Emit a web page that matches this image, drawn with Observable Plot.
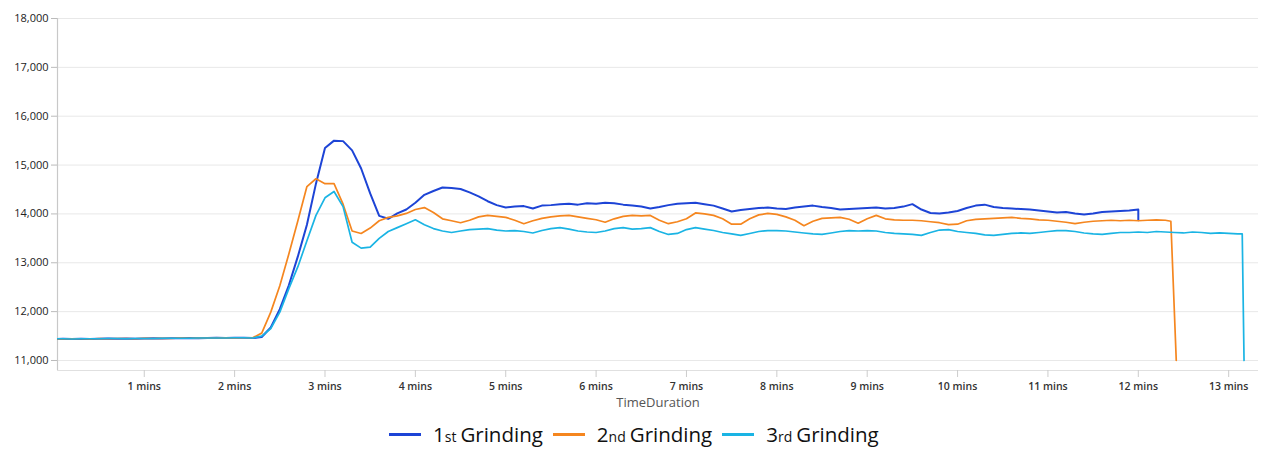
<!DOCTYPE html>
<html>
<head>
<meta charset="utf-8">
<script src="https://cdn.jsdelivr.net/npm/d3@7"></script>
<script src="https://cdn.jsdelivr.net/npm/@observablehq/plot@0.6"></script>
<style>
  html, body { margin: 0; padding: 0; background: #fff; }
  body { width: 1266px; height: 460px; overflow: hidden; font-family: "Open Sans", "Noto Sans", sans-serif; }
  #legend { position: absolute; top: 420px; left: 389px; display: flex; align-items: center; font-size: 20.5px; color: #111; white-space: nowrap; }
  #legend .item { display: flex; align-items: center; }
  #legend .sw { width: 32px; height: 3px; margin-right: 12px; }
  #legend .sm { font-size: 14px; margin-right: 4px; }
</style>
</head>
<body>
<div id="chart"></div>
<div id="legend"></div>
<script>
// ---- data ----
const seriesNames = ["1st Grinding", "2nd Grinding", "3rd Grinding"];
const seriesColors = ["#1d44d6", "#f5861f", "#1ab4e4"];
const seriesWidths = [2, 1.7, 1.7];
const timeStep = 0.1; // minutes between samples
const yTicks = [11000, 12000, 13000, 14000, 15000, 16000, 17000, 18000];
const xTicks = [1, 2, 3, 4, 5, 6, 7, 8, 9, 10, 11, 12, 13];

const grinding1 = [
  11440, 11445, 11440, 11445, 11440, 11445, 11450, 11445, 11450, 11445,
  11450, 11455, 11450, 11455, 11455, 11460, 11455, 11460, 11465, 11460,
  11465, 11465, 11460, 11480, 11675, 12050, 12540, 13130, 13780, 14620,
  15350, 15500, 15490, 15300, 14930, 14420, 13960, 13900, 14010, 14090,
  14230, 14390, 14470, 14540, 14530, 14510, 14440, 14360, 14260, 14180,
  14130, 14150, 14160, 14110, 14170, 14180, 14200, 14210, 14190, 14220,
  14210, 14230, 14220, 14190, 14170, 14150, 14110, 14140, 14180, 14210,
  14220, 14230, 14200, 14170, 14110, 14050, 14080, 14100, 14120, 14130,
  14110, 14100, 14130, 14150, 14170, 14140, 14120, 14090, 14100, 14110,
  14120, 14130, 14110, 14120, 14150, 14200, 14090, 14020, 14010, 14030,
  14060, 14120, 14170, 14190, 14140, 14120, 14110, 14100, 14090, 14070,
  14050, 14030, 14040, 14010, 13990, 14010, 14040, 14050, 14060, 14070,
  14090
];
const grinding1Tail = [[12.0, 13870]];

const grinding2 = [
  11445, 11440, 11445, 11445, 11440, 11450, 11445, 11450, 11450, 11445,
  11455, 11450, 11455, 11450, 11460, 11455, 11460, 11460, 11460, 11465,
  11460, 11465, 11465, 11560, 11990, 12530, 13180, 13860, 14560, 14720,
  14620, 14620, 14200, 13650, 13600, 13710, 13860, 13930, 13960, 14010,
  14090, 14130, 14030, 13900, 13860, 13820, 13870, 13940, 13970, 13950,
  13930, 13870, 13800, 13860, 13910, 13940, 13960, 13970, 13940, 13910,
  13880, 13830, 13900, 13950, 13970, 13960, 13970, 13870, 13800, 13840,
  13900, 14020, 14000, 13970, 13900, 13790, 13790, 13900, 13980, 14010,
  13990, 13940, 13870, 13760, 13850, 13910, 13920, 13930, 13890, 13810,
  13900, 13970, 13900, 13880, 13870, 13870, 13860, 13840, 13820, 13780,
  13790, 13860, 13890, 13900, 13910, 13920, 13930, 13910, 13900, 13880,
  13870, 13850, 13830, 13800, 13830, 13850, 13860, 13870, 13860, 13870,
  13860, 13870, 13880, 13870
];
const grinding2Tail = [[12.36, 13850], [12.42, 11000]];

const grinding3 = [
  11445, 11445, 11440, 11445, 11445, 11445, 11450, 11450, 11445, 11450,
  11450, 11450, 11455, 11455, 11455, 11455, 11460, 11460, 11460, 11460,
  11465, 11465, 11460, 11500, 11655, 11990, 12470, 12920, 13450, 13970,
  14330, 14460, 14150, 13420, 13300, 13320, 13500, 13640, 13720, 13800,
  13880, 13780, 13700, 13650, 13620, 13650, 13680, 13690, 13700, 13670,
  13650, 13660, 13640, 13610, 13660, 13700, 13720, 13690, 13650, 13630,
  13620, 13650, 13700, 13720, 13690, 13700, 13720, 13640, 13580, 13600,
  13680, 13720, 13690, 13660, 13620, 13590, 13560, 13600, 13640, 13660,
  13660, 13650, 13630, 13610, 13590, 13580, 13610, 13640, 13660, 13650,
  13660, 13650, 13620, 13600, 13590, 13580, 13560, 13620, 13670, 13680,
  13640, 13620, 13600, 13570, 13560, 13580, 13600, 13610, 13600, 13620,
  13640, 13660, 13660, 13640, 13610, 13590, 13580, 13600, 13620, 13620,
  13630, 13620, 13640, 13630, 13620, 13610, 13630, 13620, 13600, 13610,
  13600, 13590
];
const grinding3Tail = [[13.15, 13590], [13.17, 11000]];

// ---- build table ----
function build(values, tail, name) {
  const rows = values.map((v, i) => ({t: +(i * timeStep).toFixed(2), v, s: name}));
  tail.forEach(([t, v]) => rows.push({t, v, s: name}));
  return rows;
}
const allSeries = [
  build(grinding1, grinding1Tail, seriesNames[0]),
  build(grinding2, grinding2Tail, seriesNames[1]),
  build(grinding3, grinding3Tail, seriesNames[2])
];

const xDomain = [0.04, 13.33];
const yDomain = [10795, 18000];

const chart = Plot.plot({
  width: 1266,
  height: 410,
  marginLeft: 57,
  marginRight: 8,
  marginTop: 18,
  marginBottom: 40,
  style: {fontFamily: "'Open Sans', 'Noto Sans', sans-serif", fontSize: "11px", color: "#222", background: "#fff"},
  x: {domain: xDomain, label: null},
  y: {domain: yDomain, label: null},
  color: {domain: seriesNames, range: seriesColors},
  marks: [
    Plot.gridY(yTicks, {stroke: "#e8e8e8", strokeOpacity: 1}),
    Plot.ruleX([xDomain[0]], {stroke: "#c8c8c8", strokeWidth: 1.2}),
    Plot.ruleY([yDomain[0]], {stroke: "#e0e0e0", strokeWidth: 1.2}),
    Plot.axisY(yTicks, {tickFormat: d3.format(","), tickSize: 6, tickPadding: 3, stroke: "#bbb", fontSize: 11, fill: "#222", label: null}),
    Plot.axisX(xTicks, {tickFormat: d => `${d} mins`, tickSize: 7, tickPadding: 5, stroke: "#ccc", fontSize: 10.5, fontWeight: 600, fill: "#333", label: null}),
    Plot.text(["TimeDuration"], {frameAnchor: "bottom", dy: 36, fontSize: 13, fill: "#555"}),
    ...allSeries.map((rows, i) =>
      Plot.line(rows, {x: "t", y: "v", stroke: "s", strokeWidth: seriesWidths[i], clip: true})
    )
  ]
});
document.getElementById("chart").appendChild(chart);

// ---- legend ----
const legend = document.getElementById("legend");
const parts = [["1", "st"], ["2", "nd"], ["3", "rd"]];
seriesNames.forEach((name, i) => {
  const item = document.createElement("div");
  item.className = "item";
  item.style.marginRight = i < 2 ? "10px" : "0";
  const sw = document.createElement("div");
  sw.className = "sw";
  sw.style.background = seriesColors[i];
  item.appendChild(sw);
  const txt = document.createElement("span");
  txt.innerHTML = `${parts[i][0]}<span class="sm">${parts[i][1]}</span>${name.split(" ")[1]}`;
  item.appendChild(txt);
  legend.appendChild(item);
});
</script>
</body>
</html>
